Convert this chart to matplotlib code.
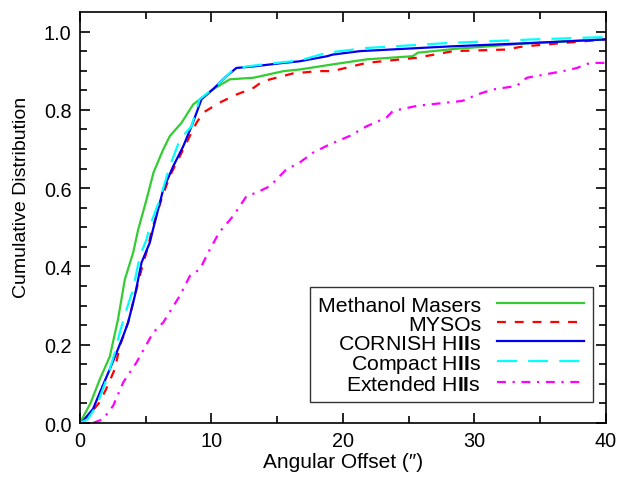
import matplotlib
matplotlib.use("Agg")
import matplotlib.pyplot as plt

plt.rcParams['font.family'] = ['Liberation Sans', 'DejaVu Sans']
plt.rcParams['mathtext.fontset'] = 'custom'
plt.rcParams['mathtext.rm'] = 'Liberation Sans'
plt.rcParams['mathtext.bf'] = 'Liberation Sans:bold'

# cumulative distributions (offset in arcsec, fraction)
maser_x = [0, 0.8, 1.52, 2.28, 2.9, 3.42, 4.05, 4.44, 5.07, 5.6, 6.34, 6.84, 7.73, 8.62, 9.13,
           10.1, 11.4, 13.2, 15.5, 16.7, 19.2, 21.8, 25.3, 25.7, 28.6, 34.5, 40]
maser_y = [0, 0.05, 0.112, 0.17, 0.265, 0.367, 0.435, 0.495, 0.571, 0.64, 0.699, 0.733, 0.767, 0.814, 0.827,
           0.852, 0.878, 0.882, 0.899, 0.903, 0.916, 0.929, 0.937, 0.946, 0.956, 0.971, 0.98]

myso_x = [0.2, 1.5, 2.0, 2.66, 3.04, 3.67, 4.18, 4.69, 5.2, 5.45, 6.2, 6.84, 7.73, 8.49, 8.87, 9.38,
          10.6, 11.9, 13.2, 13.9, 16.2, 18.1, 19.2, 21.8, 25.6, 28.4, 32.4, 33.7, 40]
myso_y = [0, 0.053, 0.087, 0.138, 0.197, 0.257, 0.325, 0.393, 0.452, 0.49, 0.571, 0.631, 0.69, 0.742, 0.767, 0.793,
          0.818, 0.839, 0.856, 0.873, 0.893, 0.899, 0.899, 0.92, 0.933, 0.95, 0.954, 0.962, 0.98]

cornish_x = [0.1, 1.0, 1.52, 2.28, 2.9, 3.3, 3.67, 4.18, 4.69, 5.32, 5.55, 6.34, 7.1, 7.86, 8.49, 9.25,
             10.1, 11.15, 11.9, 13.2, 15.5, 16.7, 18.8, 19.2, 21.3, 28.1, 34.5, 40]
cornish_y = [0, 0.036, 0.078, 0.138, 0.189, 0.223, 0.257, 0.325, 0.41, 0.461, 0.493, 0.597, 0.656, 0.707, 0.758, 0.827,
             0.852, 0.886, 0.907, 0.911, 0.92, 0.924, 0.937, 0.941, 0.95, 0.962, 0.971, 0.98]

compact_x = [0, 0.6, 1.27, 2.03, 2.66, 3.04, 3.55, 4.05, 4.56, 5.07, 5.32, 6.08, 6.84, 7.6, 8.49, 9.1,
             10.4, 11.66, 12.7, 15.5, 16.7, 18.8, 21.8, 28.1, 34.5, 40]
compact_y = [0, 0.01, 0.044, 0.112, 0.18, 0.232, 0.29, 0.342, 0.427, 0.469, 0.503, 0.571, 0.656, 0.724, 0.758, 0.827,
             0.861, 0.903, 0.911, 0.922, 0.926, 0.946, 0.958, 0.971, 0.98, 0.986]

ext_x = [1.0, 1.77, 2.53, 3.3, 4.31, 5.57, 6.34, 7.6, 8.37, 9.13, 9.89, 10.6, 11.66, 12.68, 13.4, 14.45,
         15.7, 16.7, 17.7, 19.0, 20.5, 21.8, 23.3, 23.8, 25.6, 29.1, 30.2, 31.4, 33.2, 34.0, 36.75, 37.8, 38.8, 40]
ext_y = [0, 0.01, 0.044, 0.104, 0.155, 0.231, 0.257, 0.325, 0.376, 0.393, 0.444, 0.487, 0.529, 0.58, 0.588, 0.605,
         0.648, 0.665, 0.69, 0.712, 0.733, 0.758, 0.78, 0.797, 0.81, 0.823, 0.839, 0.852, 0.861, 0.882, 0.899, 0.907, 0.92, 0.92]

labels = ["Methanol Masers", "MYSOs", r"CORNISH H$\mathbf{II}$s",
          r"Compact H$\mathbf{II}$s", r"Extended H$\mathbf{II}$s"]

fig = plt.figure(figsize=(6.24, 4.81), dpi=100)
ax = fig.add_axes([0.128, 0.1185, 0.843, 0.8545])

lw = 1.6
ax.plot(maser_x, maser_y, color='#33cc33', lw=lw, label=labels[0])
ax.plot(myso_x, myso_y, color='red', lw=lw, dashes=(4, 4), label=labels[1])
ax.plot(cornish_x, cornish_y, color='#0000ee', lw=lw, label=labels[2])
ax.plot(compact_x, compact_y, color='cyan', lw=lw, dashes=(9, 5), label=labels[3])
ax.plot(ext_x, ext_y, color='magenta', lw=lw, dashes=(4, 3, 1, 3), label=labels[4])

ax.set_xlim(0, 40)
ax.set_ylim(0, 1.05)
ax.set_xticks([0, 10, 20, 30, 40])
ax.set_xticks(range(0, 41, 5), minor=True)
ax.set_yticks([0, 0.2, 0.4, 0.6, 0.8, 1.0])
ax.set_yticks([i * 0.05 for i in range(21)], minor=True)
ax.set_yticklabels(["0.0", "0.2", "0.4", "0.6", "0.8", "1.0"])
ax.tick_params(which='both', direction='in', top=True, right=True, width=1.2, labelsize=14.3, pad=6)
ax.tick_params(which='major', length=7)
ax.tick_params(which='minor', length=5)
for s in ax.spines.values():
    s.set_linewidth(1.2)

ax.set_xlabel("Angular Offset (\u2033)", fontsize=15, labelpad=1)
ax.set_ylabel("Cumulative Distribution", fontsize=14)
ax.yaxis.set_label_coords(-0.095, 0.552)

leg = ax.legend(loc='lower right', bbox_to_anchor=(0.975, 0.051), borderaxespad=0, markerfirst=False,
                fontsize=15.3, handlelength=4.1, handletextpad=0.75, labelspacing=0.0,
                borderpad=0.4, frameon=True, fancybox=False, edgecolor='black')
leg.get_frame().set_linewidth(1.0)

fig.savefig("out.png", dpi=100)
